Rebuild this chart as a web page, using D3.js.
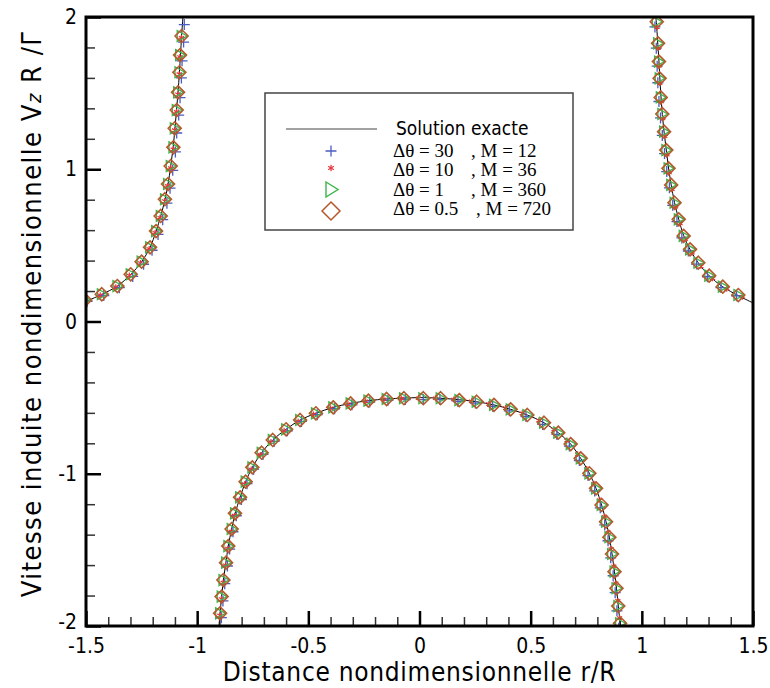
<!DOCTYPE html>
<html><head><meta charset="utf-8">
<script src="https://cdn.jsdelivr.net/npm/d3@7"></script>
<style>body{margin:0;background:#fff}</style>
</head><body><svg id="c" width="770" height="688"></svg>
<script>
// ---------- DATA ----------
const xTicks = [-1.5, -1, -0.5, 0, 0.5, 1, 1.5];
const yTicks = [-2, -1, 0, 1, 2];
const xTitle = "Distance nondimensionnelle r/R";
const yTitle = "Vitesse induite nondimensionnelle V";

// Exact solution (three branches)
const exactLeftR  = [-1.5,-1.429,-1.359,-1.299,-1.250,-1.212,-1.185,-1.164,-1.145,-1.131,-1.119,-1.108,-1.100,-1.093,-1.086,-1.080,-1.075,-1.070,-1.064];
const exactLeftV  = [0.132,0.178,0.233,0.308,0.392,0.486,0.592,0.692,0.800,0.902,1.020,1.142,1.265,1.385,1.505,1.635,1.750,1.875,2.0];
const exactInnerR = [-0.902,-0.897,-0.890,-0.882,-0.871,-0.860,-0.845,-0.829,-0.807,-0.782,-0.752,-0.710,-0.660,-0.600,-0.537,-0.466,-0.388,-0.310,-0.230,-0.148,-0.070,0.0,0.095,0.179,0.257,0.335,0.410,0.485,0.560,0.624,0.680,0.725,0.764,0.794,0.819,0.839,0.854,0.866,0.877,0.886,0.894,0.904];
const exactInnerV = [-2.0,-1.917,-1.807,-1.698,-1.584,-1.475,-1.363,-1.260,-1.155,-1.052,-0.958,-0.862,-0.778,-0.708,-0.647,-0.603,-0.564,-0.538,-0.520,-0.509,-0.503,-0.500,-0.504,-0.514,-0.527,-0.548,-0.577,-0.614,-0.665,-0.730,-0.805,-0.899,-0.997,-1.096,-1.205,-1.315,-1.417,-1.527,-1.643,-1.752,-1.869,-2.0];
const exactRightR = [1.063,1.067,1.072,1.077,1.081,1.086,1.092,1.100,1.110,1.120,1.132,1.147,1.166,1.188,1.217,1.254,1.303,1.364,1.434,1.5];
const exactRightV = [2.0,1.93,1.82,1.71,1.60,1.48,1.36,1.245,1.126,1.008,0.898,0.782,0.672,0.565,0.472,0.385,0.300,0.228,0.170,0.122];

// Δθ = 0.5, M = 720 (diamonds)
const rM720 = [-1.504,-1.429,-1.359,-1.299,-1.250,-1.212,-1.185,-1.164,-1.145,-1.131,-1.119,-1.107,-1.101,-1.092,-1.086,-1.080,-1.077,-1.070,
  -0.897,-0.890,-0.882,-0.870,-0.860,-0.845,-0.830,-0.807,-0.782,-0.752,-0.710,-0.660,-0.600,-0.537,-0.466,-0.388,-0.310,-0.230,-0.148,-0.070,
  0.017,0.095,0.179,0.257,0.335,0.410,0.485,0.560,0.624,0.680,0.725,0.764,0.794,0.819,0.839,0.854,0.866,0.877,0.886,0.894,0.902,
  1.067,1.073,1.077,1.080,1.085,1.092,1.100,1.110,1.120,1.132,1.147,1.166,1.188,1.217,1.254,1.303,1.364,1.434];
const vM720 = [0.141,0.179,0.233,0.310,0.393,0.487,0.594,0.693,0.803,0.903,1.021,1.144,1.269,1.389,1.505,1.637,1.750,1.875,
  -1.917,-1.807,-1.698,-1.584,-1.475,-1.363,-1.260,-1.155,-1.052,-0.958,-0.862,-0.778,-0.708,-0.647,-0.603,-0.564,-0.538,-0.520,-0.509,-0.504,
  -0.504,-0.504,-0.516,-0.527,-0.548,-0.577,-0.614,-0.665,-0.730,-0.805,-0.899,-0.997,-1.096,-1.205,-1.315,-1.417,-1.527,-1.643,-1.752,-1.869,-1.982,
  1.969,1.827,1.707,1.597,1.472,1.363,1.247,1.126,1.006,0.897,0.780,0.671,0.562,0.474,0.386,0.301,0.229,0.174];

// Δθ = 1, M = 360 (triangles)
const rM360 = [-1.504,-1.429,-1.359,-1.299,-1.250,-1.212,-1.185,-1.164,-1.145,-1.131,-1.119,-1.107,-1.101,-1.092,-1.086,-1.080,-1.077,-1.070,
  -0.897,-0.890,-0.882,-0.870,-0.860,-0.845,-0.830,-0.807,-0.782,-0.752,-0.710,-0.660,-0.600,-0.537,-0.466,-0.388,-0.310,-0.230,-0.148,-0.070,
  0.017,0.095,0.179,0.257,0.335,0.410,0.485,0.560,0.624,0.680,0.725,0.764,0.794,0.819,0.839,0.854,0.866,0.877,0.886,0.894,0.902,
  1.067,1.073,1.077,1.080,1.085,1.092,1.100,1.110,1.120,1.132,1.147,1.166,1.188,1.217,1.254,1.303,1.364,1.434];
const vM360 = [0.141,0.179,0.233,0.310,0.393,0.487,0.594,0.693,0.803,0.903,1.021,1.144,1.269,1.389,1.505,1.637,1.750,1.875,
  -1.917,-1.807,-1.698,-1.584,-1.475,-1.363,-1.260,-1.155,-1.052,-0.958,-0.862,-0.778,-0.708,-0.647,-0.603,-0.564,-0.538,-0.520,-0.509,-0.504,
  -0.504,-0.504,-0.516,-0.527,-0.548,-0.577,-0.614,-0.665,-0.730,-0.805,-0.899,-0.997,-1.096,-1.205,-1.315,-1.417,-1.527,-1.643,-1.752,-1.869,-1.982,
  1.969,1.827,1.707,1.597,1.472,1.363,1.247,1.126,1.006,0.897,0.780,0.671,0.562,0.474,0.386,0.301,0.229,0.174];

// Δθ = 10, M = 36 (asterisks)
const rM36 = [-1.504,-1.436,-1.366,-1.305,-1.255,-1.216,-1.189,-1.167,-1.147,-1.133,-1.120,-1.108,-1.102,-1.093,-1.087,-1.081,-1.078,-1.071,
  -0.898,-0.891,-0.883,-0.872,-0.862,-0.847,-0.832,-0.810,-0.786,-0.757,-0.716,-0.668,-0.609,-0.546,-0.477,-0.400,-0.322,-0.242,-0.160,-0.082,
  -0.005,0.072,0.154,0.234,0.312,0.387,0.462,0.537,0.605,0.663,0.711,0.752,0.785,0.811,0.833,0.849,0.862,0.874,0.883,0.892,0.900,
  1.069,1.074,1.078,1.081,1.087,1.094,1.103,1.113,1.123,1.136,1.152,1.172,1.195,1.226,1.266,1.318,1.382,1.452];
const vM36 = [0.136,0.173,0.226,0.302,0.384,0.477,0.583,0.682,0.791,0.891,1.009,1.132,1.257,1.377,1.493,1.625,1.738,1.863,
  -1.930,-1.823,-1.714,-1.601,-1.491,-1.380,-1.275,-1.171,-1.067,-0.972,-0.876,-0.791,-0.718,-0.656,-0.610,-0.570,-0.542,-0.523,-0.511,-0.505,
  -0.504,-0.504,-0.512,-0.524,-0.542,-0.568,-0.603,-0.650,-0.710,-0.782,-0.871,-0.968,-1.066,-1.172,-1.282,-1.386,-1.494,-1.608,-1.719,-1.834,-1.948,
  1.934,1.797,1.680,1.566,1.445,1.334,1.217,1.096,0.979,0.868,0.753,0.644,0.540,0.452,0.365,0.283,0.215,0.163];

// Δθ = 30, M = 12 (plus)
const rM12 = [-1.495,-1.420,-1.350,-1.290,-1.241,-1.203,-1.176,-1.155,-1.136,-1.122,-1.110,-1.098,-1.092,-1.083,-1.077,-1.071,-1.068,-1.061,-1.058,
  -0.891,-0.884,-0.876,-0.864,-0.854,-0.839,-0.824,-0.801,-0.776,-0.746,-0.704,-0.654,-0.594,-0.531,-0.460,-0.382,-0.304,-0.224,-0.142,-0.064,
  0.017,0.092,0.173,0.251,0.329,0.404,0.479,0.554,0.618,0.674,0.719,0.758,0.788,0.813,0.833,0.848,0.860,0.871,0.880,0.888,0.896,
  1.059,1.065,1.069,1.072,1.077,1.084,1.092,1.102,1.112,1.124,1.139,1.158,1.180,1.209,1.246,1.295,1.356,1.426];
const vM12 = [0.133,0.170,0.222,0.296,0.376,0.468,0.572,0.669,0.777,0.876,0.993,1.114,1.238,1.356,1.470,1.600,1.712,1.835,1.950,
  -1.945,-1.835,-1.722,-1.606,-1.495,-1.381,-1.276,-1.169,-1.065,-0.970,-0.873,-0.788,-0.718,-0.656,-0.612,-0.573,-0.547,-0.529,-0.518,-0.513,
  -0.513,-0.513,-0.525,-0.536,-0.557,-0.587,-0.624,-0.676,-0.742,-0.818,-0.913,-1.012,-1.113,-1.224,-1.336,-1.440,-1.552,-1.670,-1.781,-1.900,-2.015,
  1.935,1.795,1.677,1.568,1.445,1.337,1.222,1.103,0.985,0.878,0.763,0.656,0.549,0.463,0.377,0.294,0.223,0.169];

const legendLeft  = ["\u0394\u03b8 = 30", "\u0394\u03b8 = 10", "\u0394\u03b8 = 1", "\u0394\u03b8 = 0.5"];
const legendRight = [", M = 12", ", M = 36", ", M = 360", ", M = 720"];

// ---------- CHART ----------
const SANS = "'Liberation Sans Narrow','DejaVu Sans Condensed','Open Sans',sans-serif";
const SERIF = "'Liberation Serif','Times New Roman',serif";
const svg = d3.select("#c");
const L = 86, R = 753, T = 17, B = 626;
const x = d3.scaleLinear([-1.5, 1.5], [L, R]);
const y = d3.scaleLinear([-2, 2], [B, T]);

svg.append("defs").append("clipPath").attr("id", "clip")
  .append("rect").attr("x", L).attr("y", T).attr("width", R - L).attr("height", B - T);

// minor ticks
const xMinor = d3.range(-15, 16).map(d => d / 10).filter(d => Math.abs(d * 2 - Math.round(d * 2)) > 1e-6);
const yMinor = d3.range(-10, 11).map(d => d / 5).filter(d => Math.abs(d - Math.round(d)) > 1e-6);

const gxm = svg.append("g").attr("transform", `translate(0,${B})`)
  .call(d3.axisBottom(x).tickValues(xMinor).tickSize(-9).tickFormat(""));
const gym = svg.append("g").attr("transform", `translate(${L},0)`)
  .call(d3.axisLeft(y).tickValues(yMinor).tickSize(-9).tickFormat(""));
[gxm, gym].forEach(g => { g.select(".domain").remove(); g.selectAll("line").attr("stroke", "#333").attr("stroke-width", 1.5); });

const gx = svg.append("g").attr("transform", `translate(0,${B})`)
  .call(d3.axisBottom(x).tickValues(xTicks).tickSize(-15).tickPadding(12).tickFormat(d => String(d)));
const gy = svg.append("g").attr("transform", `translate(${L},0)`)
  .call(d3.axisLeft(y).tickValues(yTicks).tickSize(-15).tickPadding(9).tickFormat(d => String(d)));
[gx, gy].forEach(g => {
  g.select(".domain").remove();
  g.selectAll("line").attr("stroke", "#000").attr("stroke-width", 2.5);
  g.selectAll("text").attr("font-family", SANS).attr("font-size", 21).attr("fill", "#000");
});
// lift the bottom y label slightly so it clears the x labels
gy.selectAll(".tick text").filter(d => d === -2).attr("dy", "0.1em");

// exact solution
const plot = svg.append("g").attr("clip-path", "url(#clip)");
const line = d3.line().x(d => x(d[0])).y(d => y(d[1])).curve(d3.curveCatmullRom);
[[exactLeftR, exactLeftV], [exactInnerR, exactInnerV], [exactRightR, exactRightV]].forEach(([rs, vs]) => {
  plot.append("path").datum(rs.map((r, i) => [r, vs[i]]))
    .attr("d", line).attr("fill", "none").attr("stroke", "#000").attr("stroke-width", 1);
});

const COL = { plus: "#4a5cc0", star: "#e8363c", tri: "#3cb54a", dia: "#b5592c" };
const shapes = {
  plus: s => `M${-s},0H${s}M0,${-s}V${s}`,
  tri: s => `M${-s * 0.8},${-s}L${s * 1.0},0L${-s * 0.8},${s}Z`,
  dia: s => `M0,${-s}L${s},0L0,${s}L${-s},0Z`
};
function drawSeries(rs, vs, kind, size) {
  const pts = rs.map((r, i) => [r, vs[i]]);
  const sel = plot.append("g").selectAll("path").data(pts).join("path")
    .attr("transform", d => `translate(${x(d[0])},${y(d[1])})`)
    .attr("fill", "none").attr("stroke", COL[kind]);
  if (kind === "star") sel.attr("d", d3.symbol(d3.symbolAsterisk, size)()).attr("stroke-width", 1.2);
  else sel.attr("d", shapes[kind](size)).attr("stroke-width", kind === "dia" ? 1.6 : 1.3);
}
drawSeries(rM12, vM12, "plus", 5.5);
drawSeries(rM36, vM36, "star", 24);
drawSeries(rM360, vM360, "tri", 5.5);
drawSeries(rM720, vM720, "dia", 6.5);

// frame
svg.append("rect").attr("x", L).attr("y", T).attr("width", R - L).attr("height", B - T)
  .attr("fill", "none").attr("stroke", "#000").attr("stroke-width", 3);

// axis titles
svg.append("text").attr("x", (L + R) / 2).attr("y", 681).attr("text-anchor", "middle")
  .attr("font-family", SANS).attr("font-size", 26).attr("letter-spacing", 0.7).text(xTitle);
const yt = svg.append("text").attr("transform", "translate(41,314) rotate(-90)").attr("text-anchor", "middle")
  .attr("font-family", SANS).attr("font-size", 27).attr("letter-spacing", 1.5);
yt.append("tspan").text(yTitle);
yt.append("tspan").attr("font-size", 20).attr("font-style", "italic").text("z");
yt.append("tspan").text(" R /\u0393");

// legend
const lg = svg.append("g");
lg.append("rect").attr("x", 265).attr("y", 93).attr("width", 308).attr("height", 137)
  .attr("fill", "#fff").attr("stroke", "#444").attr("stroke-width", 1.5);
lg.append("line").attr("x1", 286).attr("x2", 377).attr("y1", 129).attr("y2", 129)
  .attr("stroke", "#444").attr("stroke-width", 1.2);
lg.append("text").attr("x", 396).attr("y", 135).attr("font-family", SANS).attr("font-size", 19).text("Solution exacte");
const rowY = [151, 168, 189.5, 211];
const textY = [157, 176, 196, 215];
const kinds = ["plus", "star", "tri", "dia"];
kinds.forEach((k, i) => {
  const p = lg.append("path").attr("transform", `translate(331,${rowY[i]})`).attr("fill", "none").attr("stroke", COL[k]);
  if (k === "star") p.attr("d", d3.symbol(d3.symbolAsterisk, 30)()).attr("stroke-width", 1.2);
  else if (k === "plus") p.attr("d", shapes.plus(5.5)).attr("stroke-width", 1.3);
  else if (k === "tri") p.attr("d", `M-5,-7.5L7,0L-5,7.5Z`).attr("stroke-width", 1.4);
  else p.attr("d", shapes.dia(9)).attr("stroke-width", 1.5);
  lg.append("text").attr("x", 393).attr("y", textY[i]).attr("font-family", SERIF).attr("font-size", 19).text(legendLeft[i]);
  lg.append("text").attr("x", i === 3 ? 476 : 471).attr("y", textY[i]).attr("font-family", SERIF).attr("font-size", 19).text(legendRight[i]);
});
</script></body></html>
